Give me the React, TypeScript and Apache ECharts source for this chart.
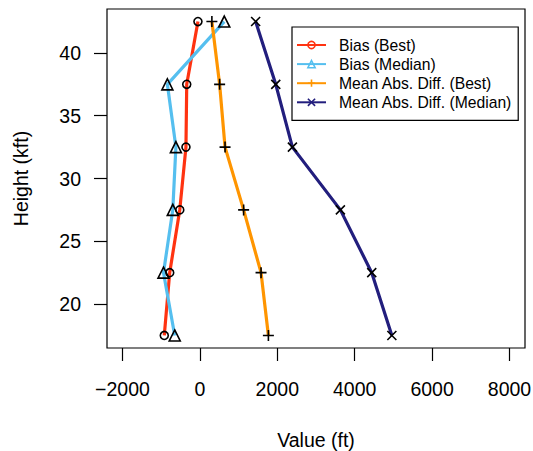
import React, { useEffect, useRef } from "react";
import * as echarts from "echarts";

const heights = [17.5, 22.5, 27.5, 32.5, 37.5, 42.5];
const biasBest = [-920, -780, -520, -360, -340, -50];
const biasMedian = [-650, -940, -700, -620, -840, 630];
const madBest = [1770, 1580, 1130, 650, 510, 310];
const madMedian = [4960, 4440, 3630, 2390, 1960, 1440];
const xTicks = [-2000, 0, 2000, 4000, 6000, 8000];
const yTicks = [20, 25, 30, 35, 40];

const seriesNames = ["Bias (Best)", "Bias (Median)", "Mean Abs. Diff. (Best)", "Mean Abs. Diff. (Median)"];
const seriesColors = ["#FF3311", "#55BFEF", "#FF9500", "#221E7D"];
const seriesSymbols = [
  "circle",
  "triangle",
  "path://M5,0L5,10M0,5L10,5",
  "path://M0,0L10,10M10,0L0,10",
];
const symbolSizes = [8, 11, 11, 9];

const FONT = "Liberation Sans, Arial, Helvetica, sans-serif";

const fmt = (v: number) => (v < 0 ? "\u2212" + String(-v) : String(v));

export default function App() {
  const ref = useRef<HTMLDivElement>(null);
  useEffect(() => {
    if (!ref.current) return;
    const chart = echarts.init(ref.current, undefined, { renderer: "svg" });
    const allValues = [biasBest, biasMedian, madBest, madMedian];
    const series = allValues.map((vals, i) => ({
      name: seriesNames[i],
      type: "line",
      data: vals.map((v, j) => [v, heights[j]]),
      symbol: seriesSymbols[i],
      symbolSize: symbolSizes[i],
      showAllSymbol: true,
      lineStyle: { color: seriesColors[i], width: 3.2 },
      itemStyle: { color: "rgba(0,0,0,0)", borderColor: "#000", borderWidth: 1.6 },
      emphasis: { disabled: true },
      z: 2 + i,
    }));
    chart.setOption({
      animation: false,
      textStyle: { fontFamily: FONT },
      grid: {
        left: 107, right: 8, top: 9, bottom: 103,
        show: true, borderColor: "#000", borderWidth: 1.2,
        containLabel: false, outerBoundsMode: "none",
      },
      xAxis: {
        type: "value",
        min: -2400,
        max: 8400,
        name: "Value (ft)",
        nameLocation: "middle",
        nameGap: 82,
        nameTextStyle: { color: "#000", fontSize: 19.5, fontFamily: FONT },
        splitLine: { show: false },
        axisLine: { show: false, onZero: false },
        axisTick: { show: true, length: 13, lineStyle: { color: "#000", width: 1.2 }, customValues: xTicks },
        axisLabel: { color: "#000", fontSize: 19.5, margin: 31, fontFamily: FONT, customValues: xTicks, formatter: fmt },
      },
      yAxis: {
        type: "value",
        min: 16.5,
        max: 43.5,
        name: "Height (kft)",
        nameLocation: "middle",
        nameGap: 76,
        nameTextStyle: { color: "#000", fontSize: 19.5, fontFamily: FONT },
        splitLine: { show: false },
        axisLine: { show: false, onZero: false },
        axisTick: { show: true, length: 13, lineStyle: { color: "#000", width: 1.2 }, customValues: yTicks },
        axisLabel: { color: "#000", fontSize: 19.5, margin: 26, fontFamily: FONT, customValues: yTicks, formatter: fmt },
      },
      legend: {
        orient: "vertical",
        left: 292,
        top: 27,
        backgroundColor: "#fff",
        borderColor: "#000",
        borderWidth: 1.2,
        borderRadius: 0,
        padding: [10, 6, 10, 4],
        itemWidth: 29,
        itemHeight: 9,
        itemGap: 3.1,
        selectedMode: false,
        textStyle: { color: "#000", fontSize: 15.7, fontFamily: FONT, padding: [0, 0, 0, 8] },
        data: seriesNames.map((n, i) => ({
          name: n,
          itemStyle: { color: i < 2 ? "rgba(255,255,255,0)" : seriesColors[i], borderColor: seriesColors[i], borderWidth: 1.6 },
          lineStyle: { color: seriesColors[i], width: 2 },
        })),
      },
      series,
    });
    return () => chart.dispose();
  }, []);
  return <div ref={ref} style={{ position: "fixed", left: 0, top: 0, width: 533, height: 451, background: "#fff" }} />;
}
